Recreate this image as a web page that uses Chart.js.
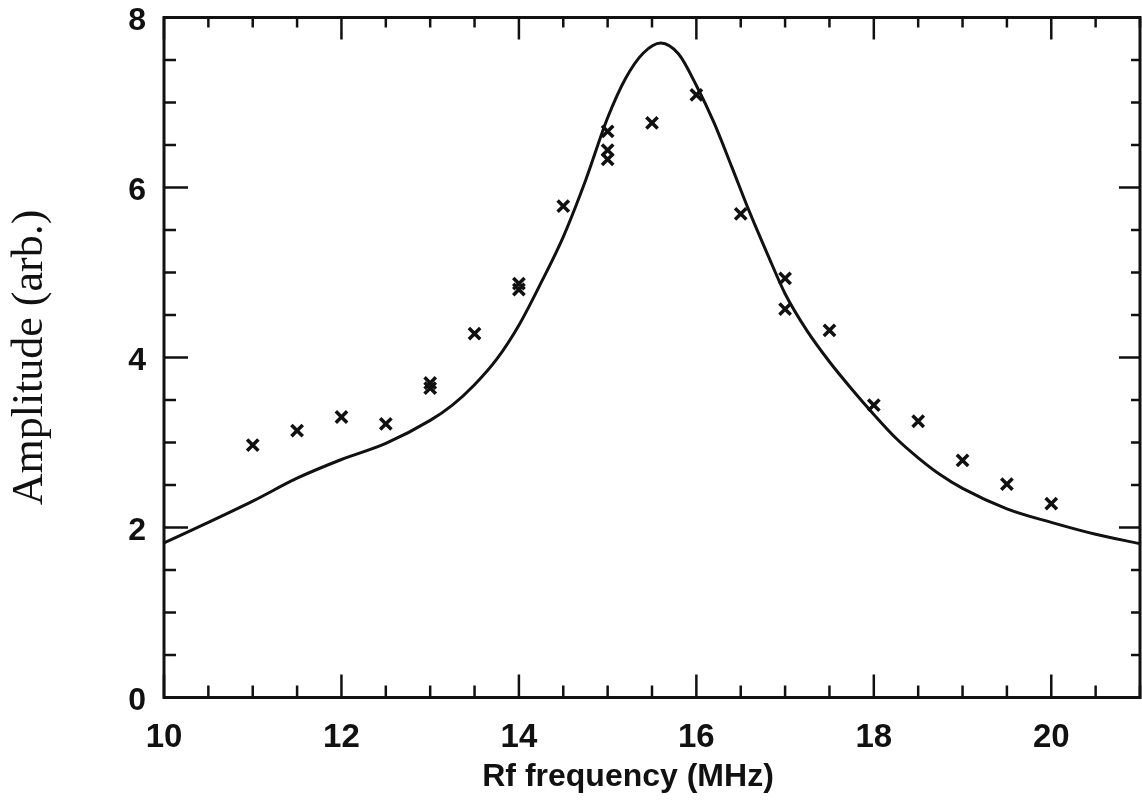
<!DOCTYPE html>
<html>
<head>
<meta charset="utf-8">
<script src="https://cdn.jsdelivr.net/npm/chart.js@4/dist/chart.umd.min.js"></script>
<style>
  html, body { margin: 0; padding: 0; background: #fff; }
  canvas { display: block; }
</style>
</head>
<body>
<canvas id="chart" width="1142" height="809"></canvas>
<script>
// measured points (crosses)
const markFreq = [11, 11.5, 12, 12.5, 13, 13, 13.5, 14, 14, 14.5, 15, 15, 15, 15.5, 16, 16.5, 17, 17, 17.5, 18, 18.5, 19, 19.5, 20];
const markAmp = [2.97, 3.14, 3.30, 3.22, 3.70, 3.64, 4.28, 4.87, 4.80, 5.78, 6.66, 6.44, 6.33, 6.76, 7.09, 5.69, 4.93, 4.57, 4.32, 3.44, 3.25, 2.79, 2.51, 2.28];

// fitted curve
const fitFreq = [10, 10.5, 11, 11.5, 12, 12.5, 13, 13.25, 13.5, 13.75, 14, 14.25, 14.5, 14.75, 15, 15.2, 15.4, 15.6, 15.8, 16, 16.2, 16.4, 16.6, 16.8, 17, 17.25, 17.5, 17.75, 18, 18.25, 18.5, 18.75, 19, 19.5, 20, 20.5, 21];
const fitAmp = [1.82, 2.06, 2.31, 2.58, 2.80, 2.99, 3.26, 3.44, 3.68, 3.98, 4.38, 4.88, 5.42, 6.08, 6.82, 7.28, 7.58, 7.70, 7.57, 7.20, 6.76, 6.24, 5.71, 5.22, 4.75, 4.31, 3.95, 3.63, 3.33, 3.05, 2.82, 2.62, 2.46, 2.22, 2.06, 1.92, 1.81];

const xMin = 10, xMax = 21, yMin = 0, yMax = 8;
const xTitle = 'Rf frequency (MHz)';
const yTitle = 'Amplitude (arb.)';

const ink = '#111';

// inward ticks on all four sides + box frame, drawn from the scales
const frameTicks = {
  id: 'frameTicks',
  afterDraw(chart) {
    const { ctx, chartArea: a, scales: { x, y } } = chart;
    ctx.save();
    ctx.strokeStyle = ink;
    ctx.lineWidth = 2.5;
    ctx.beginPath();
    x.ticks.forEach((t) => {
      const px = x.getPixelForValue(t.value);
      const major = t.value % 2 === 0;
      ctx.moveTo(px, a.bottom);
      ctx.lineTo(px, a.bottom - (major ? 23 : 12));
      ctx.moveTo(px, a.top);
      ctx.lineTo(px, a.top + (major ? 22 : 10));
    });
    y.ticks.forEach((t) => {
      const py = y.getPixelForValue(t.value);
      const major = t.value % 2 === 0;
      ctx.moveTo(a.left, py);
      ctx.lineTo(a.left + (major ? 24 : 12), py);
      ctx.moveTo(a.right, py);
      ctx.lineTo(a.right - (major ? 21 : 9), py);
    });
    ctx.stroke();
    ctx.lineWidth = 3;
    ctx.strokeRect(a.left, a.top, a.right - a.left, a.bottom - a.top);
    // x title sits a little left of the plot centre in the original
    ctx.fillStyle = ink;
    ctx.font = 'bold 32px "Liberation Sans", Arial, sans-serif';
    ctx.textAlign = 'center';
    ctx.textBaseline = 'alphabetic';
    ctx.fillText(xTitle, 628, 786);
    ctx.restore();
  },
};

new Chart(document.getElementById('chart'), {
  type: 'scatter',
  data: {
    datasets: [
      {
        label: 'fit',
        type: 'line',
        data: fitFreq.map((f, i) => ({ x: f, y: fitAmp[i] })),
        borderColor: ink,
        borderWidth: 3,
        pointRadius: 0,
        cubicInterpolationMode: 'monotone',
        fill: false,
      },
      {
        label: 'data',
        data: markFreq.map((f, i) => ({ x: f, y: markAmp[i] })),
        pointStyle: 'crossRot',
        pointRadius: 8,
        borderColor: ink,
        borderWidth: 3.5,
      },
    ],
  },
  options: {
    responsive: false,
    devicePixelRatio: 1,
    animation: false,
    layout: { autoPadding: false, padding: { top: 17.5, right: 2, left: 0, bottom: 0 } },
    plugins: { legend: { display: false }, tooltip: { enabled: false } },
    scales: {
      x: {
        type: 'linear',
        min: xMin,
        max: xMax,
        grid: { drawOnChartArea: false, drawTicks: false },
        border: { display: false },
        afterFit: (s) => { s.height = 111.5; s.paddingLeft = 0; s.paddingRight = 0; },
        ticks: {
          stepSize: 0.5,
          autoSkip: false,
          maxRotation: 0,
          padding: 0,
          color: ink,
          font: { family: '"Liberation Sans", Arial, sans-serif', size: 33, weight: 'bold', lineHeight: 2.45 },
          callback: (v) => (v % 2 === 0 ? String(v) : ''),
        },
      },
      y: {
        min: yMin,
        max: yMax,
        grid: { drawOnChartArea: false, drawTicks: false },
        border: { display: false },
        afterFit: (s) => { s.width = 164; s.paddingTop = 0; s.paddingBottom = 0; },
        title: {
          display: true,
          text: yTitle,
          color: ink,
          padding: { top: 4, bottom: 0 },
          font: { family: '"Liberation Serif", "Times New Roman", serif', size: 44, lineHeight: 1.2 },
        },
        ticks: {
          stepSize: 0.5,
          padding: 18,
          labelOffset: 4,
          color: ink,
          font: { family: '"Liberation Sans", Arial, sans-serif', size: 32, weight: 'bold', lineHeight: 1 },
          callback: (v) => (v % 2 === 0 ? String(v) : ''),
        },
      },
    },
  },
  plugins: [frameTicks],
});
</script>
</body>
</html>
